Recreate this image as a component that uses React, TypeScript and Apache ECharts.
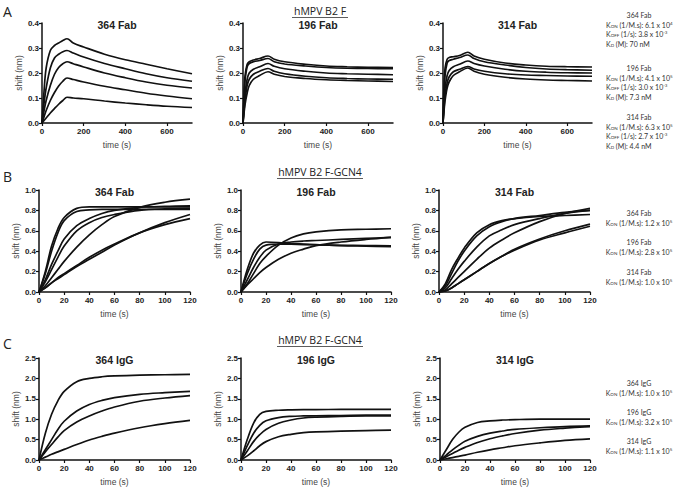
import React, { useEffect, useRef } from "react";
import * as echarts from "echarts";

// ---------- DATA ----------
// Row A (hMPV B2 F), association 0-120 s, dissociation 120-720 s
const timesA1 = [0, 10, 20, 40, 60, 80, 100, 120, 150, 200, 300, 400, 500, 600, 720];
const fab364A = [
  [0, 0.13, 0.22, 0.29, 0.31, 0.32, 0.33, 0.337, 0.32, 0.304, 0.275, 0.253, 0.235, 0.217, 0.197],
  [0, 0.08, 0.14, 0.22, 0.26, 0.275, 0.285, 0.29, 0.28, 0.264, 0.238, 0.217, 0.197, 0.181, 0.167],
  [0, 0.05, 0.09, 0.15, 0.195, 0.222, 0.237, 0.245, 0.237, 0.224, 0.2, 0.181, 0.164, 0.151, 0.14],
  [0, 0.025, 0.05, 0.09, 0.122, 0.148, 0.167, 0.18, 0.174, 0.164, 0.147, 0.133, 0.119, 0.108, 0.097],
  [0, 0.01, 0.02, 0.04, 0.058, 0.075, 0.09, 0.103, 0.1, 0.097, 0.088, 0.08, 0.073, 0.067, 0.062],
];
const timesA23 = [0, 5, 10, 20, 30, 50, 80, 120, 150, 200, 300, 400, 500, 600, 720];
const fab196A = [
  [0, 0.12, 0.19, 0.235, 0.245, 0.252, 0.258, 0.268, 0.255, 0.245, 0.235, 0.228, 0.225, 0.223, 0.222],
  [0, 0.1, 0.17, 0.225, 0.238, 0.245, 0.25, 0.258, 0.245, 0.236, 0.228, 0.222, 0.219, 0.218, 0.217],
  [0, 0.07, 0.12, 0.175, 0.2, 0.215, 0.225, 0.238, 0.227, 0.217, 0.207, 0.2, 0.197, 0.195, 0.193],
  [0, 0.05, 0.095, 0.15, 0.175, 0.195, 0.207, 0.218, 0.207, 0.197, 0.187, 0.181, 0.178, 0.176, 0.175],
  [0, 0.04, 0.075, 0.12, 0.15, 0.175, 0.19, 0.205, 0.195, 0.186, 0.178, 0.173, 0.17, 0.168, 0.166],
];
const fab314A = [
  [0, 0.15, 0.22, 0.255, 0.262, 0.265, 0.27, 0.283, 0.268, 0.255, 0.24, 0.232, 0.227, 0.225, 0.224],
  [0, 0.12, 0.19, 0.24, 0.25, 0.255, 0.262, 0.272, 0.258, 0.245, 0.232, 0.222, 0.216, 0.213, 0.211],
  [0, 0.08, 0.14, 0.19, 0.21, 0.225, 0.235, 0.248, 0.238, 0.228, 0.215, 0.207, 0.203, 0.201, 0.2],
  [0, 0.06, 0.11, 0.16, 0.185, 0.205, 0.215, 0.226, 0.216, 0.207, 0.197, 0.192, 0.19, 0.188, 0.187],
  [0, 0.05, 0.09, 0.14, 0.165, 0.19, 0.205, 0.22, 0.207, 0.195, 0.183, 0.176, 0.172, 0.17, 0.168],
];

// Rows B and C (hMPV B2 F-GCN4), association 0-120 s
const timesBC = [0, 5, 10, 15, 20, 30, 40, 50, 60, 80, 100, 120];
const fab364B = [
  [0, 0.2, 0.45, 0.62, 0.73, 0.82, 0.835, 0.835, 0.835, 0.835, 0.835, 0.835],
  [0, 0.18, 0.4, 0.58, 0.7, 0.79, 0.805, 0.81, 0.81, 0.81, 0.81, 0.81],
  [0, 0.12, 0.27, 0.4, 0.52, 0.65, 0.72, 0.77, 0.8, 0.83, 0.84, 0.845],
  [0, 0.1, 0.22, 0.34, 0.45, 0.6, 0.68, 0.73, 0.76, 0.8, 0.815, 0.82],
  [0, 0.06, 0.14, 0.22, 0.3, 0.44, 0.56, 0.66, 0.74, 0.83, 0.88, 0.91],
  [0, 0.04, 0.09, 0.13, 0.17, 0.25, 0.32, 0.39, 0.46, 0.58, 0.68, 0.76],
  [0, 0.04, 0.09, 0.14, 0.18, 0.26, 0.34, 0.41, 0.47, 0.58, 0.66, 0.72],
];
const fab196B = [
  [0, 0.22, 0.38, 0.46, 0.49, 0.485, 0.475, 0.47, 0.465, 0.455, 0.45, 0.445],
  [0, 0.18, 0.32, 0.42, 0.46, 0.47, 0.468, 0.465, 0.462, 0.458, 0.455, 0.452],
  [0, 0.12, 0.24, 0.34, 0.41, 0.47, 0.49, 0.5, 0.505, 0.515, 0.525, 0.535],
  [0, 0.08, 0.18, 0.28, 0.35, 0.46, 0.53, 0.57, 0.59, 0.61, 0.615, 0.62],
  [0, 0.07, 0.13, 0.19, 0.24, 0.32, 0.38, 0.42, 0.455, 0.49, 0.515, 0.535],
];
const fab314B = [
  [0, 0.08, 0.22, 0.33, 0.43, 0.58, 0.66, 0.7, 0.72, 0.74, 0.75, 0.76],
  [0, 0.06, 0.18, 0.3, 0.4, 0.55, 0.64, 0.69, 0.72, 0.75, 0.78, 0.8],
  [0, 0.04, 0.13, 0.22, 0.3, 0.44, 0.55, 0.61, 0.66, 0.72, 0.77, 0.8],
  [0, 0.02, 0.08, 0.14, 0.2, 0.32, 0.43, 0.51, 0.58, 0.69, 0.77, 0.82],
  [0, 0.01, 0.04, 0.08, 0.12, 0.2, 0.28, 0.35, 0.42, 0.52, 0.6, 0.665],
  [0, 0.01, 0.04, 0.08, 0.12, 0.2, 0.28, 0.35, 0.41, 0.51, 0.58, 0.645],
];
const igg364C = [
  [0, 0.65, 1.12, 1.45, 1.68, 1.92, 2.0, 2.04, 2.06, 2.08, 2.09, 2.1],
  [0, 0.25, 0.5, 0.75, 0.95, 1.2, 1.36, 1.46, 1.53, 1.61, 1.65, 1.68],
  [0, 0.2, 0.38, 0.56, 0.72, 0.93, 1.08, 1.2, 1.3, 1.44, 1.52, 1.58],
  [0, 0.07, 0.14, 0.2, 0.26, 0.38, 0.49, 0.58, 0.66, 0.79, 0.89, 0.97],
];
const igg196C = [
  [0, 0.5, 0.9, 1.12, 1.19, 1.22, 1.23, 1.235, 1.235, 1.24, 1.24, 1.24],
  [0, 0.35, 0.65, 0.85, 0.96, 1.04, 1.07, 1.08, 1.085, 1.09, 1.1, 1.1],
  [0, 0.22, 0.45, 0.62, 0.75, 0.9, 0.98, 1.03, 1.05, 1.07, 1.08, 1.08],
  [0, 0.1, 0.22, 0.35, 0.45, 0.57, 0.63, 0.67, 0.69, 0.71, 0.72, 0.73],
];
const igg314C = [
  [0, 0.25, 0.5, 0.68, 0.8, 0.92, 0.96, 0.98, 0.99, 1.0, 1.0, 1.0],
  [0, 0.12, 0.25, 0.36, 0.46, 0.58, 0.66, 0.71, 0.75, 0.79, 0.82, 0.835],
  [0, 0.08, 0.16, 0.24, 0.31, 0.43, 0.52, 0.59, 0.65, 0.73, 0.78, 0.82],
  [0, 0.03, 0.06, 0.09, 0.12, 0.19, 0.25, 0.3, 0.35, 0.42, 0.48, 0.52],
];

const panelTitles = ["364 Fab", "196 Fab", "314 Fab", "364 Fab", "196 Fab", "314 Fab", "364 IgG", "196 IgG", "314 IgG"];
const sectionTitles = ["hMPV B2 F", "hMPV B2 F-GCN4", "hMPV B2 F-GCN4"];
const rowLetters = ["A", "B", "C"];
const xTicksA = [0, 200, 400, 600];
const yMaxes = [0.4, 1.0, 2.5];
const yIntervals = [0.1, 0.2, 0.5];

const annA = [
  { name: "364 Fab", kon: "6.1 x 10", konExp: "4", koff: "3.8 x 10", koffExp: "-3", kd: "70 nM" },
  { name: "196 Fab", kon: "4.1 x 10", konExp: "5", koff: "3.0 x 10", koffExp: "-3", kd: "7.3 nM" },
  { name: "314 Fab", kon: "6.3 x 10", konExp: "5", koff: "2.7 x 10", koffExp: "-3", kd: "4.4 nM" },
];
const annB = [
  { name: "364 Fab", kon: "1.2 x 10", konExp: "5" },
  { name: "196 Fab", kon: "2.8 x 10", konExp: "5" },
  { name: "314 Fab", kon: "1.0 x 10", konExp: "5" },
];
const annC = [
  { name: "364 IgG", kon: "1.0 x 10", konExp: "5" },
  { name: "196 IgG", kon: "3.2 x 10", konExp: "5" },
  { name: "314 IgG", kon: "1.1 x 10", konExp: "5" },
];

// ---------- LAYOUT ----------
const grids = [
  { left: 42, top: 23, width: 150, height: 100 },
  { left: 243, top: 23, width: 150, height: 100 },
  { left: 443, top: 23, width: 149, height: 100 },
  { left: 39, top: 190, width: 151, height: 102 },
  { left: 241, top: 190, width: 150, height: 102 },
  { left: 439, top: 190, width: 151, height: 102 },
  { left: 39, top: 358, width: 151, height: 102 },
  { left: 241, top: 358, width: 150, height: 102 },
  { left: 440, top: 358, width: 150, height: 102 },
];

const panelData = [
  { times: timesA1, curves: fab364A },
  { times: timesA23, curves: fab196A },
  { times: timesA23, curves: fab314A },
  { times: timesBC, curves: fab364B },
  { times: timesBC, curves: fab196B },
  { times: timesBC, curves: fab314B },
  { times: timesBC, curves: igg364C },
  { times: timesBC, curves: igg196C },
  { times: timesBC, curves: igg314C },
];

const TICK_FONT = "Liberation Sans";
const ANN_FONT = "Lato";
const ANN_SIZE = 7;

function buildOption() {
  const xAxis: any[] = [];
  const yAxis: any[] = [];
  const series: any[] = [];
  const graphic: any[] = [];

  grids.forEach((g, i) => {
    const row = Math.floor(i / 3);
    const isA = row === 0;
    const axisCommon = {
      axisLine: { show: true, onZero: false, lineStyle: { color: "#111", width: 1.5 } },
      axisTick: { show: true, length: 3, lineStyle: { color: "#111", width: 1.2 } },
      splitLine: { show: false },
    };
    xAxis.push({
      type: "value",
      gridIndex: i,
      min: 0,
      max: isA ? 720 : 120,
      interval: isA ? 200 : 20,
      ...axisCommon,
      axisTick: isA
        ? { ...axisCommon.axisTick, customValues: xTicksA }
        : axisCommon.axisTick,
      axisLabel: {
        color: "#222",
        fontSize: 8,
        fontWeight: "bold",
        fontFamily: TICK_FONT,
        margin: 4,
        ...(isA ? { customValues: xTicksA } : {}),
      },
      name: "time (s)",
      nameLocation: "middle",
      nameGap: 17,
      nameTextStyle: { color: "#444", fontSize: 8.5, fontFamily: TICK_FONT },
    });
    yAxis.push({
      type: "value",
      gridIndex: i,
      min: 0,
      max: yMaxes[row],
      interval: yIntervals[row],
      ...axisCommon,
      axisLabel: {
        color: "#222",
        fontSize: 8,
        fontWeight: "bold",
        fontFamily: TICK_FONT,
        margin: 3,
        formatter: (v: number) => v.toFixed(1),
      },
      name: "shift (nm)",
      nameLocation: "middle",
      nameGap: 16,
      nameTextStyle: { color: "#444", fontSize: 8.5, fontFamily: TICK_FONT },
    });
    const pd = panelData[i];
    pd.curves.forEach((c) => {
      series.push({
        type: "line",
        xAxisIndex: i,
        yAxisIndex: i,
        data: pd.times.map((t, j) => [t, c[j]]),
        showSymbol: false,
        smooth: 0.35,
        silent: true,
        lineStyle: { color: "#111", width: 1.7 },
      });
    });
    graphic.push({
      type: "text",
      x: g.left + g.width / 2,
      y: g.top + 2,
      style: {
        text: panelTitles[i],
        fontSize: 10.5,
        fontWeight: "bold",
        fontFamily: TICK_FONT,
        fill: "#222",
        align: "center",
        verticalAlign: "middle",
      },
    });
  });

  // Row letters and section titles with underline
  const letterY = [11, 176, 343];
  const sectionY = [11, 172, 340];
  const sectionHalfWidth = [28, 43, 43];
  for (let r = 0; r < 3; r++) {
    graphic.push({
      type: "text",
      x: 3,
      y: letterY[r],
      style: { text: rowLetters[r], fontSize: 14, fontFamily: "Open Sans", fill: "#222", align: "left", verticalAlign: "middle" },
    });
    graphic.push({
      type: "text",
      x: 320,
      y: sectionY[r],
      style: { text: sectionTitles[r], fontSize: 10.5, fontFamily: "Open Sans", fill: "#222", align: "center", verticalAlign: "middle" },
    });
    graphic.push({
      type: "line",
      shape: { x1: 320 - sectionHalfWidth[r], y1: sectionY[r] + 6.5, x2: 320 + sectionHalfWidth[r], y2: sectionY[r] + 6.5 },
      style: { stroke: "#333", lineWidth: 0.8 },
    });
  }

  const rich = {
    s: { fontSize: 4.5, fontFamily: ANN_FONT, fill: "#333", verticalAlign: "bottom", padding: [3, 0, 0, 0] },
    p: { fontSize: 4.5, fontFamily: ANN_FONT, fill: "#333", verticalAlign: "top" },
    n: { fontSize: ANN_SIZE, fontFamily: ANN_FONT, fill: "#333" },
  };
  const annText = (x: number, y: number, text: string, align: string) => ({
    type: "text",
    x,
    y,
    style: { text, rich, fontSize: ANN_SIZE, fontFamily: ANN_FONT, fill: "#333", align, verticalAlign: "middle" },
  });

  // Row A annotations
  const annAY = [15, 68, 117];
  annA.forEach((a, k) => {
    const y0 = annAY[k];
    graphic.push(annText(639, y0, `{n|${a.name}}`, "center"));
    graphic.push(annText(606, y0 + 9.7, `{n|K}{s|ON}{n| (1/M.s): ${a.kon}}{p|${a.konExp}}`, "left"));
    graphic.push(annText(606, y0 + 19.4, `{n|K}{s|OFF}{n| (1/s): ${a.koff}}{p|${a.koffExp}}`, "left"));
    graphic.push(annText(606, y0 + 29.1, `{n|K}{s|D}{n| (M): ${a.kd}}`, "left"));
  });
  const annBY = [213, 242, 272];
  annB.forEach((a, k) => {
    graphic.push(annText(639, annBY[k], `{n|${a.name}}`, "center"));
    graphic.push(annText(639, annBY[k] + 10, `{n|K}{s|ON}{n| (1/M.s): ${a.kon}}{p|${a.konExp}}`, "center"));
  });
  const annCY = [383, 412, 441];
  annC.forEach((a, k) => {
    graphic.push(annText(639, annCY[k], `{n|${a.name}}`, "center"));
    graphic.push(annText(639, annCY[k] + 10, `{n|K}{s|ON}{n| (1/M.s): ${a.kon}}{p|${a.konExp}}`, "center"));
  });

  return {
    animation: false,
    backgroundColor: "#fff",
    grid: grids.map((g) => ({ ...g, containLabel: false })),
    xAxis,
    yAxis,
    series,
    graphic,
  };
}

export default function App() {
  const ref = useRef<HTMLDivElement>(null);
  useEffect(() => {
    document.body.style.margin = "0";
    if (!ref.current) return;
    const chart = echarts.init(ref.current, undefined, { renderer: "svg" });
    chart.setOption(buildOption() as any);
    return () => chart.dispose();
  }, []);
  return <div ref={ref} style={{ width: 674, height: 487 }} />;
}
